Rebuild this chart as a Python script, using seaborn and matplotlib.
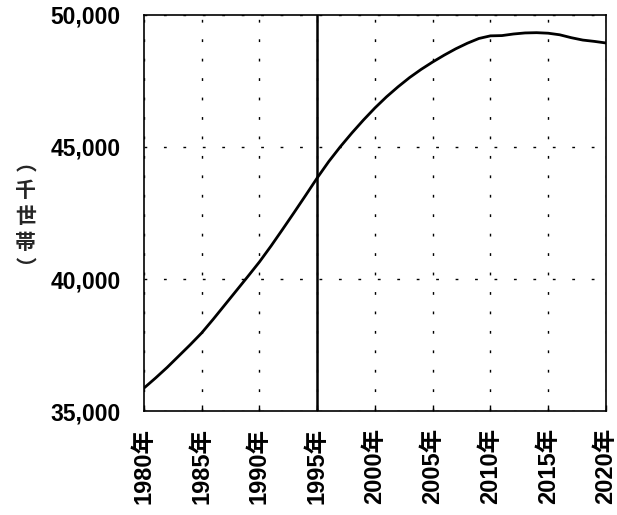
import matplotlib
matplotlib.use("Agg")
import matplotlib.pyplot as plt
import seaborn as sns
import pandas as pd

# Households (thousands), 1980-2020
years = list(range(1980, 2021))
households = [
    35870, 36250, 36650, 37080, 37510,
    37960, 38480, 39020, 39560, 40100,
    40650, 41250, 41880, 42520, 43170,
    43830, 44450, 45010, 45530, 46020,
    46480, 46900, 47280, 47630, 47940,
    48220, 48480, 48720, 48930, 49110,
    49210, 49220, 49280, 49320, 49330,
    49310, 49250, 49140, 49050, 49000,
    48940,
]
tick_years = [1980, 1985, 1990, 1995, 2000, 2005, 2010, 2015, 2020]
tick_labels = [f"{y}年" for y in tick_years]
y_ticks = [35000, 40000, 45000, 50000]
marker_year = 1995
ylabel_chars = ["︵", "千", "世", "帯", "︶"]

df = pd.DataFrame({"year": years, "households": households})

sns.set_style("ticks")
plt.rcParams["font.family"] = ["Liberation Sans", "Noto Sans CJK JP", "DejaVu Sans"]

fig = plt.figure(figsize=(6.17, 5.15), dpi=100)
ax = fig.add_axes([0.2334, 0.2019, 0.7486, 0.7690])

sns.lineplot(data=df, x="year", y="households", ax=ax, color="black", linewidth=2.0)

ax.set_xlim(1980, 2020)
ax.set_ylim(35000, 50000)
ax.set_xticks(tick_years)
ax.set_xticklabels(tick_labels, rotation=90, fontsize=17, fontweight="bold")
ax.set_yticks(y_ticks)
ax.set_yticklabels([f"{v:,}" for v in y_ticks], fontsize=16.5, fontweight="bold")
ax.tick_params(axis="x", direction="in", length=4, width=1, pad=12, colors="black")
ax.tick_params(axis="y", direction="in", length=0, pad=17, colors="black")

ax.grid(True, color="black", linestyle=(0, (2, 12)), linewidth=1.0)
ax.axvline(marker_year, color="black", linewidth=1.8)

for side in ["left", "right", "top", "bottom"]:
    ax.spines[side].set_visible(True)
    ax.spines[side].set_color("black")
    ax.spines[side].set_linewidth(1.2)

ax.set_xlabel("")
ax.set_ylabel("")
fig.text(0.042, 0.58, "\n".join(ylabel_chars), ha="center", va="center",
         fontsize=15, fontweight="bold", linespacing=1.3,
         family=["Noto Sans CJK JP", "DejaVu Sans"])

fig.savefig("out.png", dpi=100, facecolor="white")
